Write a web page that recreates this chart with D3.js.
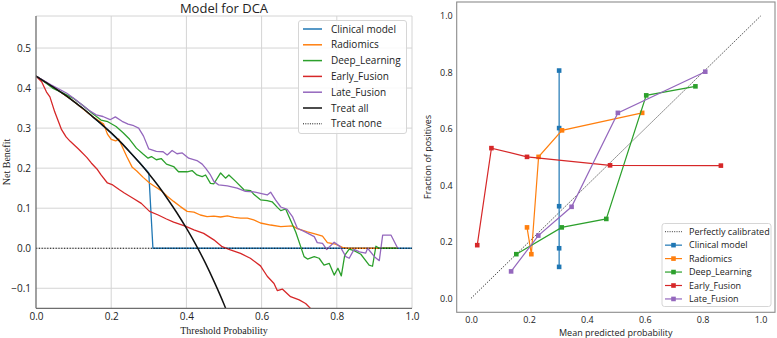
<!DOCTYPE html>
<html><head><meta charset="utf-8">
<script src="https://cdnjs.cloudflare.com/ajax/libs/d3/7.8.5/d3.min.js"></script>
<style>
body{margin:0;background:#fff;}
svg{display:block;}
text{font-family:"Open Sans","Noto Sans",sans-serif;fill:#222;}
</style></head>
<body>
<svg id="chart" width="777" height="338"></svg>
<script>
// ---------- DCA (left panel) data: [threshold, net benefit] ----------
const dcaSeriesNames = ["Clinical model","Radiomics","Deep_Learning","Early_Fusion","Late_Fusion"];
const dcaColors = ["#1f77b4","#ff7f0e","#2ca02c","#d62728","#9467bd"];

const clinicalDCA = [[0,0.43],[0.025,0.415],[0.05,0.4],[0.075,0.384],[0.1,0.367],[0.125,0.349],[0.15,0.329],
  [0.175,0.309],[0.2,0.288],[0.225,0.265],[0.25,0.24],[0.275,0.214],[0.3,0.188],[0.311,0],[1.0,0]];

const radiomicsDCA = [[0,0.43],[0.05,0.4],[0.1,0.367],[0.15,0.329],[0.18,0.31],[0.19,0.285],[0.2,0.272],
  [0.212,0.268],[0.22,0.273],[0.23,0.252],[0.242,0.228],[0.256,0.202],[0.268,0.193],[0.285,0.177],
  [0.302,0.163],[0.318,0.153],[0.333,0.144],[0.349,0.13],[0.366,0.117],[0.384,0.104],[0.402,0.092],
  [0.42,0.09],[0.437,0.083],[0.455,0.079],[0.473,0.08],[0.491,0.078],[0.509,0.081],[0.527,0.077],
  [0.544,0.075],[0.562,0.075],[0.579,0.071],[0.597,0.063],[0.624,0.058],[0.651,0.054],[0.682,0.056],
  [0.695,0.049],[0.722,0.041],[0.744,0.035],[0.762,0.03],[0.775,0.014],[0.797,0.01],[0.815,0.002],
  [0.83,0],[0.962,0]];

const deepLearningDCA = [[0,0.43],[0.027,0.412],[0.044,0.4],[0.071,0.388],[0.098,0.375],[0.124,0.357],
  [0.151,0.336],[0.173,0.32],[0.191,0.316],[0.213,0.304],[0.231,0.289],[0.249,0.272],[0.267,0.25],
  [0.284,0.236],[0.298,0.225],[0.307,0.229],[0.32,0.221],[0.333,0.224],[0.347,0.21],[0.366,0.204],
  [0.379,0.191],[0.402,0.191],[0.415,0.194],[0.428,0.183],[0.442,0.179],[0.451,0.183],[0.464,0.162],
  [0.473,0.161],[0.491,0.188],[0.504,0.175],[0.513,0.183],[0.531,0.167],[0.553,0.146],[0.571,0.144],
  [0.58,0.134],[0.597,0.121],[0.615,0.119],[0.628,0.116],[0.642,0.102],[0.651,0.094],[0.664,0.098],
  [0.677,0.07],[0.691,0.04],[0.704,0.004],[0.713,-0.021],[0.722,-0.027],[0.74,-0.021],[0.753,-0.025],
  [0.766,-0.042],[0.78,-0.038],[0.793,-0.067],[0.803,-0.05],[0.812,-0.069],[0.821,-0.018],[0.833,-0.002],
  [0.846,-0.006],[0.864,-0.015],[0.886,-0.042],[0.895,-0.045],[0.904,0.005],[0.913,0],[0.962,0]];

const earlyFusionDCA = [[0,0.43],[0.015,0.416],[0.028,0.39],[0.037,0.378],[0.05,0.34],[0.068,0.296],
  [0.08,0.278],[0.091,0.267],[0.113,0.248],[0.135,0.227],[0.147,0.213],[0.162,0.198],[0.173,0.183],
  [0.19,0.163],[0.204,0.158],[0.222,0.146],[0.235,0.138],[0.258,0.125],[0.28,0.112],[0.302,0.092],
  [0.325,0.083],[0.347,0.073],[0.366,0.065],[0.397,0.055],[0.42,0.046],[0.446,0.037],[0.473,0.021],
  [0.495,0.004],[0.517,-0.004],[0.544,-0.013],[0.57,-0.025],[0.597,-0.044],[0.615,-0.07],[0.633,-0.088],
  [0.642,-0.106],[0.655,-0.102],[0.677,-0.121],[0.7,-0.129],[0.717,-0.138],[0.735,-0.155]];

const lateFusionDCA = [[0,0.43],[0.04,0.408],[0.082,0.387],[0.104,0.372],[0.124,0.357],[0.142,0.344],
  [0.16,0.333],[0.178,0.329],[0.197,0.321],[0.211,0.328],[0.229,0.317],[0.245,0.31],[0.26,0.306],
  [0.273,0.3],[0.286,0.28],[0.3,0.248],[0.32,0.242],[0.338,0.241],[0.349,0.233],[0.362,0.244],
  [0.375,0.236],[0.389,0.238],[0.406,0.225],[0.428,0.219],[0.442,0.21],[0.451,0.2],[0.464,0.183],
  [0.473,0.167],[0.486,0.158],[0.509,0.156],[0.535,0.15],[0.557,0.142],[0.579,0.141],[0.597,0.137],
  [0.615,0.133],[0.624,0.14],[0.637,0.121],[0.651,0.103],[0.668,0.097],[0.682,0.079],[0.695,0.05],
  [0.713,0.042],[0.74,0.029],[0.748,0.014],[0.762,0.012],[0.773,-0.003],[0.793,0.015],[0.809,0.004],
  [0.824,-0.021],[0.833,-0.025],[0.846,-0.003],[0.86,-0.009],[0.877,-0.012],[0.882,0],[0.9,-0.021],
  [0.913,-0.031],[0.922,0.033],[0.944,0.033],[0.962,0]];

const treatAllDCA = [[0,0.43],[0.025,0.415],[0.05,0.4],[0.075,0.384],[0.1,0.367],[0.125,0.349],[0.15,0.329],
  [0.175,0.309],[0.2,0.288],[0.225,0.265],[0.25,0.24],[0.275,0.214],[0.3,0.186],[0.325,0.156],[0.35,0.123],
  [0.375,0.088],[0.4,0.05],[0.425,0.009],[0.45,-0.036],[0.475,-0.086],[0.5,-0.14],[0.525,-0.2]];
const treatNoneDCA = [[0,0],[1,0]];

const dcaXTicks = [0.0,0.2,0.4,0.6,0.8,1.0];
const dcaYTicks = [-0.1,0.0,0.1,0.2,0.3,0.4,0.5];

// ---------- Calibration (right panel) data: [mean predicted, fraction positives] ----------
const clinicalCal = [[0.304,0.111],[0.304,0.177],[0.304,0.326],[0.304,0.603],[0.304,0.807]];
const radiomicsCal = [[0.193,0.251],[0.208,0.156],[0.233,0.501],[0.314,0.595],[0.591,0.657]];
const deepLearningCal = [[0.156,0.156],[0.313,0.251],[0.467,0.281],[0.605,0.719],[0.775,0.751]];
const earlyFusionCal = [[0.021,0.188],[0.07,0.532],[0.193,0.501],[0.48,0.471],[0.863,0.47]];
const lateFusionCal = [[0.138,0.095],[0.232,0.222],[0.347,0.324],[0.507,0.657],[0.809,0.803]];
const perfectCal = [[0,0],[1,1]];
const calTicks = [0.0,0.2,0.4,0.6,0.8,1.0];

// ---------- drawing ----------
const svg = d3.select("#chart");
const fmt = d3.format(".1f");

// LEFT PANEL
const xL = d3.scaleLinear().domain([0,1]).range([36,412]);
const yL = d3.scaleLinear().domain([-0.15,0.58]).range([308.3,16]);
const gL = svg.append("g");

svg.append("defs").append("clipPath").attr("id","clipL")
  .append("rect").attr("x",xL(0)).attr("y",yL(0.58)).attr("width",xL(1)-xL(0)).attr("height",yL(-0.15)-yL(0.58));

// grid
gL.append("g").selectAll("line").data(dcaXTicks.filter(d=>d>0)).join("line")
  .attr("x1",d=>xL(d)).attr("x2",d=>xL(d)).attr("y1",yL(0.58)).attr("y2",yL(-0.15))
  .attr("stroke","#d4d4d4").attr("stroke-width",1);
gL.append("g").selectAll("line").data(dcaYTicks).join("line")
  .attr("x1",xL(0)).attr("x2",xL(1)).attr("y1",d=>yL(d)).attr("y2",d=>yL(d))
  .attr("stroke","#d4d4d4").attr("stroke-width",1);
gL.append("line").attr("x1",xL(0)).attr("x2",xL(1)).attr("y1",yL(0.58)).attr("y2",yL(0.58))
  .attr("stroke","#d4d4d4");

const lineL = d3.line().x(d=>xL(d[0])).y(d=>yL(d[1]));
const plotL = gL.append("g").attr("clip-path","url(#clipL)");
const dcaData = [clinicalDCA, radiomicsDCA, deepLearningDCA, earlyFusionDCA, lateFusionDCA];
dcaData.forEach((s,i)=>{
  plotL.append("path").datum(s).attr("d",lineL).attr("fill","none")
    .attr("stroke",dcaColors[i]).attr("stroke-width",1.3).attr("stroke-linejoin","round");
});
plotL.append("path").datum(treatAllDCA).attr("d",lineL.curve(d3.curveMonotoneX)).attr("fill","none")
  .attr("stroke","#111").attr("stroke-width",1.5);
lineL.curve(d3.curveLinear);
plotL.append("path").datum(treatNoneDCA).attr("d",lineL).attr("fill","none")
  .attr("stroke","#111").attr("stroke-width",1.1).attr("stroke-dasharray","1.2,1.6");

// spines left / bottom
gL.append("line").attr("x1",xL(0)).attr("x2",xL(0)).attr("y1",yL(0.58)).attr("y2",yL(-0.15))
  .attr("stroke","#6e6e6e").attr("stroke-width",1.3);
gL.append("line").attr("x1",xL(0)).attr("x2",xL(1)).attr("y1",yL(-0.15)).attr("y2",yL(-0.15))
  .attr("stroke","#6e6e6e").attr("stroke-width",1.3);

const axL = gL.append("g").attr("transform",`translate(0,${yL(-0.15)})`)
  .call(d3.axisBottom(xL).tickValues(dcaXTicks).tickFormat(fmt).tickSize(0).tickPadding(5));
const ayL = gL.append("g").attr("transform",`translate(${xL(0)},0)`)
  .call(d3.axisLeft(yL).tickValues(dcaYTicks).tickFormat(fmt).tickSize(0).tickPadding(5));
[axL,ayL].forEach(a=>{a.select(".domain").remove();
  a.selectAll("text").style("font-family","'Open Sans',sans-serif").style("font-size","10px").attr("fill","#222");});

svg.append("text").attr("x",224).attr("y",13).attr("text-anchor","middle")
  .style("font-size","13px").text("Model for DCA");
svg.append("text").attr("x",224).attr("y",334).attr("text-anchor","middle")
  .style("font-family","'Liberation Serif','Times New Roman',serif").style("font-size","10px").text("Threshold Probability");
svg.append("text").attr("transform","translate(10,162) rotate(-90)").attr("text-anchor","middle")
  .style("font-family","'Liberation Serif','Times New Roman',serif").style("font-size","10px").text("Net Benefit");

// left legend
const legL = svg.append("g");
legL.append("rect").attr("x",298.5).attr("y",20.5).attr("width",108).attr("height",113).attr("rx",2.5)
  .attr("fill","#fff").attr("fill-opacity",0.85).attr("stroke","#d6d6d6");
const legLItems = dcaSeriesNames.map((n,i)=>({name:n,color:dcaColors[i],dash:null,w:1.5}))
  .concat([{name:"Treat all",color:"#111",dash:null,w:1.5},{name:"Treat none",color:"#111",dash:"1,1.3",w:1}]);
legLItems.forEach((d,i)=>{
  const cy = 29 + i*15.8;
  legL.append("line").attr("x1",303).attr("x2",322).attr("y1",cy).attr("y2",cy)
    .attr("stroke",d.color).attr("stroke-width",d.w).attr("stroke-dasharray",d.dash);
  legL.append("text").attr("x",331).attr("y",cy+3.6).style("font-size","10px").text(d.name);
});

// RIGHT PANEL
const xR = d3.scaleLinear().domain([-0.05,1.05]).range([456.7,775]);
const yR = d3.scaleLinear().domain([-0.05,1.05]).range([312.3,2]);
const gR = svg.append("g");
const lineR = d3.line().x(d=>xR(d[0])).y(d=>yR(d[1]));
gR.append("path").datum(perfectCal).attr("d",lineR).attr("fill","none")
  .attr("stroke","#222").attr("stroke-width",1).attr("stroke-dasharray","1.2,1.6");
const calData = [clinicalCal, radiomicsCal, deepLearningCal, earlyFusionCal, lateFusionCal];
calData.forEach((s,i)=>{
  gR.append("path").datum(s).attr("d",lineR).attr("fill","none")
    .attr("stroke",dcaColors[i]).attr("stroke-width",1.2);
  gR.append("g").selectAll("rect").data(s).join("rect")
    .attr("x",d=>xR(d[0])-2.3).attr("y",d=>yR(d[1])-2.3).attr("width",4.6).attr("height",4.6)
    .attr("fill",dcaColors[i]);
});
gR.append("rect").attr("x",456.7).attr("y",2).attr("width",775-456.7).attr("height",312.3-2)
  .attr("fill","none").attr("stroke","#8c8c8c").attr("stroke-width",1.1);

const axR = gR.append("g").attr("transform",`translate(0,${yR(-0.05)})`)
  .call(d3.axisBottom(xR).tickValues(calTicks).tickFormat(fmt).tickSize(0).tickPadding(4));
const ayR = gR.append("g").attr("transform",`translate(${xR(-0.05)},0)`)
  .call(d3.axisLeft(yR).tickValues(calTicks).tickFormat(fmt).tickSize(0).tickPadding(4));
[axR,ayR].forEach(a=>{a.select(".domain").remove();
  a.selectAll("text").style("font-family","'Open Sans',sans-serif").style("font-size","9px").attr("fill","#222");});

svg.append("text").attr("x",615.8).attr("y",336).attr("text-anchor","middle")
  .style("font-size","9px").text("Mean predicted probability");
svg.append("text").attr("transform","translate(431,157) rotate(-90)").attr("text-anchor","middle")
  .style("font-size","9px").text("Fraction of positives");

// right legend
const legR = svg.append("g");
legR.append("rect").attr("x",662).attr("y",223.5).attr("width",109).attr("height",83).attr("rx",2.5)
  .attr("fill","#fff").attr("fill-opacity",0.85).attr("stroke","#d6d6d6");
const legRItems = [{name:"Perfectly calibrated",color:"#222",dash:"1,1.3",marker:false}]
  .concat(dcaSeriesNames.map((n,i)=>({name:n,color:dcaColors[i],dash:null,marker:true})));
legRItems.forEach((d,i)=>{
  const cy = 231.7 + i*13.45;
  legR.append("line").attr("x1",665).attr("x2",682).attr("y1",cy).attr("y2",cy)
    .attr("stroke",d.color).attr("stroke-width",d.marker?1.2:0.9).attr("stroke-dasharray",d.dash);
  if(d.marker) legR.append("rect").attr("x",673.5-2.3).attr("y",cy-2.3).attr("width",4.6).attr("height",4.6).attr("fill",d.color);
  legR.append("text").attr("x",689).attr("y",cy+3.2).style("font-size","9px").text(d.name);
});
</script>
</body></html>
